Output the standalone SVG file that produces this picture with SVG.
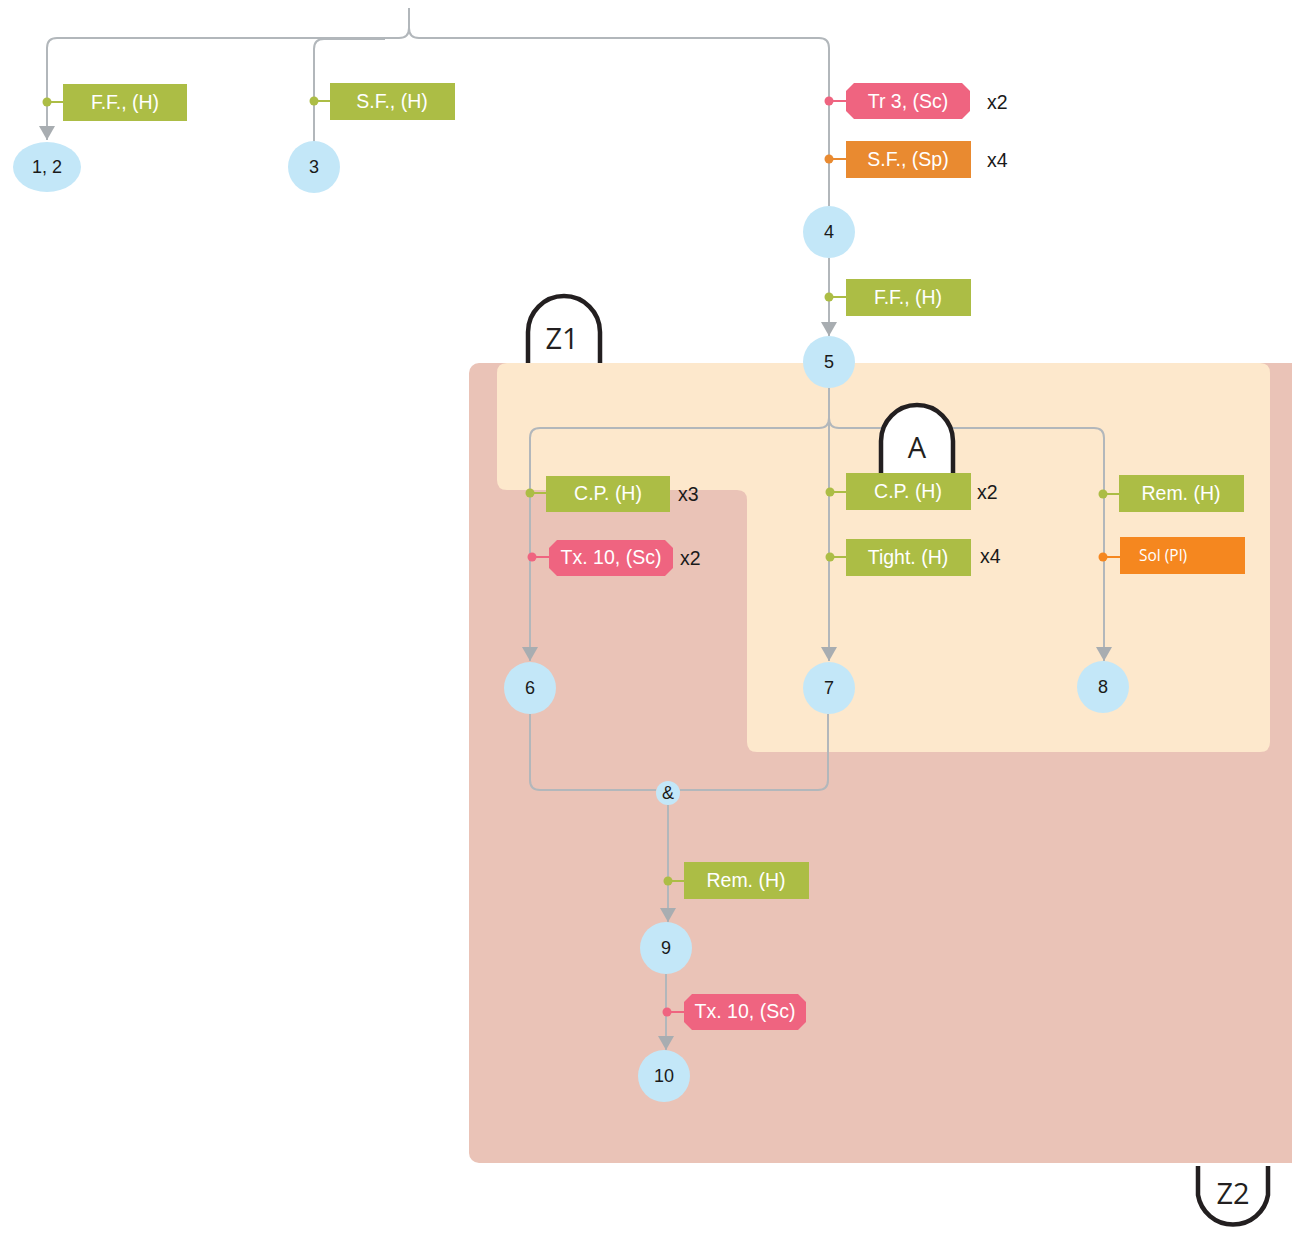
<svg xmlns="http://www.w3.org/2000/svg" width="1292" height="1233" viewBox="0 0 1292 1233">
  <style>
    .wire { fill: none; stroke: #b2b7bb; stroke-width: 2; }
    .arr { marker-end: url(#head); }
    .node { fill: #c3e7f8; }
    .ntext { font-family: "Liberation Sans", Arial, sans-serif; font-size: 18px; fill: #1a1a1a; text-anchor: middle; dominant-baseline: central; }
    .ltext { font-family: "Liberation Sans", Arial, sans-serif; font-size: 19.5px; fill: #ffffff; text-anchor: middle; dominant-baseline: central; }
    .mult { font-family: "Liberation Sans", Arial, sans-serif; font-size: 19.5px; fill: #1a1a1a; dominant-baseline: central; }
    .green { fill: #acbd45; }
    .pink { fill: #ef6480; }
    .orange { fill: #e98a30; }
    .gdot { fill: #acbd45; }
    .pdot { fill: #ef6480; }
    .odot { fill: #e98a30; }
    .gtie { stroke: #acbd45; stroke-width: 2; }
    .ptie { stroke: #ef6480; stroke-width: 2; }
    .otie { stroke: #e98a30; stroke-width: 2; }
    .tab { fill: #ffffff; stroke: #231f20; stroke-width: 4.5; }
    .tabtext { font-family: "Open Sans", "DejaVu Sans", sans-serif; font-size: 29px; fill: #231f20; text-anchor: middle; dominant-baseline: central; }
  </style>
  <defs>
    <marker id="head" viewBox="0 0 14 16" refX="14" refY="8" markerWidth="14" markerHeight="16" markerUnits="userSpaceOnUse" orient="auto">
      <path d="M0,0 L14,8 L0,16 Z" fill="#a8adb1"/>
    </marker>
  </defs>

  <!-- zones -->
  <g id="zone-z2">
    <rect x="469" y="363" width="840" height="800" rx="10" fill="#eac3b7"/>
  </g>
  <g id="zone-z1">
    <path d="M507,363 H1260 Q1270,363 1270,373 V742 Q1270,752 1260,752 H757 Q747,752 747,742 V500 Q747,490 737,490 H507 Q497,490 497,480 V373 Q497,363 507,363 Z" fill="#fde8cc"/>
  </g>
  <g id="tab-z1">
    <path class="tab" d="M528,363 V332 A36,36 0 0 1 600,332 V363"/>
    <text class="tabtext" x="562" y="337">Z1</text>
  </g>
  <g id="tab-z2">
    <path class="tab" d="M1198,1166 V1195 A35.5,35.5 0 0 0 1268,1195 V1166"/>
    <text class="tabtext" x="1233" y="1192">Z2</text>
  </g>

  <!-- connectors -->
  <g id="connectors">
    <path class="wire arr" d="M409,8 V28 Q409,38 399,38 H57 Q47,38 47,48 V140"/>
    <path class="wire" d="M385,39 H324 Q314,39 314,49 V142"/>
    <path class="wire" d="M409,28 Q409,38 419,38 H819 Q829,38 829,48 V206"/>
    <path class="wire arr" d="M829,258 V336"/>
    <path class="wire arr" d="M829,388 V418 Q829,428 819,428 H540 Q530,428 530,438 V661"/>
    <path class="wire arr" d="M829,418 V661"/>
    <path class="wire arr" d="M829,418 Q829,428 839,428 H1094 Q1104,428 1104,438 V661"/>
    <path class="wire" d="M530,714 V780 Q530,790 540,790 H656"/>
    <path class="wire" d="M828,714 V780 Q828,790 818,790 H680"/>
    <path class="wire arr" d="M668,805 V922"/>
    <path class="wire arr" d="M666,974 V1050"/>
  </g>

  <!-- task labels -->
  <g id="lbl-ff-1">
    <line class="gtie" x1="47" y1="102" x2="63" y2="102"/>
    <circle class="gdot" cx="47" cy="102" r="4.5"/>
    <rect class="green" x="63" y="84" width="124" height="37"/>
    <text class="ltext" x="125" y="102">F.F., (H)</text>
  </g>
  <g id="lbl-sf-3">
    <line class="gtie" x1="314" y1="101" x2="330" y2="101"/>
    <circle class="gdot" cx="314" cy="101" r="4.5"/>
    <rect class="green" x="330" y="83" width="125" height="37"/>
    <text class="ltext" x="392" y="101">S.F., (H)</text>
  </g>
  <g id="lbl-tr3">
    <line class="ptie" x1="829" y1="101" x2="846" y2="101"/>
    <circle class="pdot" cx="829" cy="101" r="4.5"/>
    <polygon class="pink" points="854,83 962,83 970,91 970,111 962,119 854,119 846,111 846,91"/>
    <text class="ltext" x="908" y="101">Tr 3, (Sc)</text>
    <text class="mult" x="987" y="102">x2</text>
  </g>
  <g id="lbl-sf-sp">
    <line class="otie" x1="829" y1="159" x2="846" y2="159"/>
    <circle class="odot" cx="829" cy="159" r="4.5"/>
    <rect class="orange" x="846" y="141" width="125" height="37"/>
    <text class="ltext" x="908" y="159">S.F., (Sp)</text>
    <text class="mult" x="987" y="160">x4</text>
  </g>
  <g id="lbl-ff-5">
    <line class="gtie" x1="829" y1="297" x2="846" y2="297"/>
    <circle class="gdot" cx="829" cy="297" r="4.5"/>
    <rect class="green" x="846" y="279" width="125" height="37"/>
    <text class="ltext" x="908" y="297">F.F., (H)</text>
  </g>
  <g id="lbl-cp-6">
    <line class="gtie" x1="530" y1="493" x2="546" y2="493"/>
    <circle class="gdot" cx="530" cy="493" r="4.5"/>
    <rect class="green" x="546" y="476" width="124" height="36"/>
    <text class="ltext" x="608" y="493">C.P. (H)</text>
    <text class="mult" x="678" y="494">x3</text>
  </g>
  <g id="lbl-tx-6">
    <line class="ptie" x1="532" y1="557" x2="549" y2="557"/>
    <circle class="pdot" cx="532" cy="557" r="4.5"/>
    <polygon class="pink" points="557,540 665,540 673,548 673,568 665,576 557,576 549,568 549,548"/>
    <text class="ltext" x="611" y="557">Tx. 10, (Sc)</text>
    <text class="mult" x="680" y="558">x2</text>
  </g>
  <g id="tab-a">
    <path class="tab" d="M881,473 V441 A36,36 0 0 1 953,441 V473"/>
    <text class="tabtext" x="917" y="446">A</text>
  </g>
  <g id="lbl-cp-7">
    <line class="gtie" x1="830" y1="492" x2="846" y2="492"/>
    <circle class="gdot" cx="830" cy="492" r="4.5"/>
    <rect class="green" x="846" y="473" width="125" height="37"/>
    <text class="ltext" x="908" y="491">C.P. (H)</text>
    <text class="mult" x="977" y="492">x2</text>
  </g>
  <g id="lbl-tight-7">
    <line class="gtie" x1="830" y1="557" x2="846" y2="557"/>
    <circle class="gdot" cx="830" cy="557" r="4.5"/>
    <rect class="green" x="846" y="539" width="125" height="37"/>
    <text class="ltext" x="908" y="557">Tight. (H)</text>
    <text class="mult" x="980" y="556">x4</text>
  </g>
  <g id="lbl-rem-8">
    <line class="gtie" x1="1103" y1="494" x2="1119" y2="494"/>
    <circle class="gdot" cx="1103" cy="494" r="4.5"/>
    <rect class="green" x="1119" y="475" width="125" height="37"/>
    <text class="ltext" x="1181" y="493">Rem. (H)</text>
  </g>
  <g id="lbl-sol-8">
    <line x1="1103" y1="557" x2="1120" y2="557" stroke="#f5871f" stroke-width="2"/>
    <circle cx="1103" cy="557" r="4.5" fill="#f5871f"/>
    <rect x="1120" y="537" width="125" height="37" fill="#f5871f"/>
    <text x="1139" y="555" font-family="'Open Sans', 'DejaVu Sans', sans-serif" font-size="15.5" fill="#ffffff" dominant-baseline="central">Sol (Pl)</text>
  </g>
  <g id="lbl-rem-9">
    <line class="gtie" x1="668" y1="881" x2="684" y2="881"/>
    <circle class="gdot" cx="668" cy="881" r="4.5"/>
    <rect class="green" x="684" y="862" width="125" height="37"/>
    <text class="ltext" x="746" y="880">Rem. (H)</text>
  </g>
  <g id="lbl-tx-10">
    <line class="ptie" x1="667" y1="1012" x2="684" y2="1012"/>
    <circle class="pdot" cx="667" cy="1012" r="4.5"/>
    <polygon class="pink" points="692,994 798,994 806,1002 806,1022 798,1030 692,1030 684,1022 684,1002"/>
    <text class="ltext" x="745" y="1011">Tx. 10, (Sc)</text>
  </g>

  <!-- state nodes -->
  <g id="node-1-2"><ellipse class="node" cx="47" cy="167" rx="34" ry="25"/><text class="ntext" x="47" y="167">1, 2</text></g>
  <g id="node-3"><circle class="node" cx="314" cy="167" r="26"/><text class="ntext" x="314" y="167">3</text></g>
  <g id="node-4"><circle class="node" cx="829" cy="232" r="26"/><text class="ntext" x="829" y="232">4</text></g>
  <g id="node-5"><circle class="node" cx="829" cy="362" r="26"/><text class="ntext" x="829" y="362">5</text></g>
  <g id="node-6"><circle class="node" cx="530" cy="688" r="26"/><text class="ntext" x="530" y="688">6</text></g>
  <g id="node-7"><circle class="node" cx="829" cy="688" r="26"/><text class="ntext" x="829" y="688">7</text></g>
  <g id="node-8"><circle class="node" cx="1103" cy="687" r="26"/><text class="ntext" x="1103" y="687">8</text></g>
  <g id="node-and"><circle class="node" cx="668" cy="793" r="12"/><text class="ntext" x="668" y="793" font-size="17">&amp;</text></g>
  <g id="node-9"><circle class="node" cx="666" cy="948" r="26"/><text class="ntext" x="666" y="948">9</text></g>
  <g id="node-10"><circle class="node" cx="664" cy="1076" r="26"/><text class="ntext" x="664" y="1076">10</text></g>
</svg>
